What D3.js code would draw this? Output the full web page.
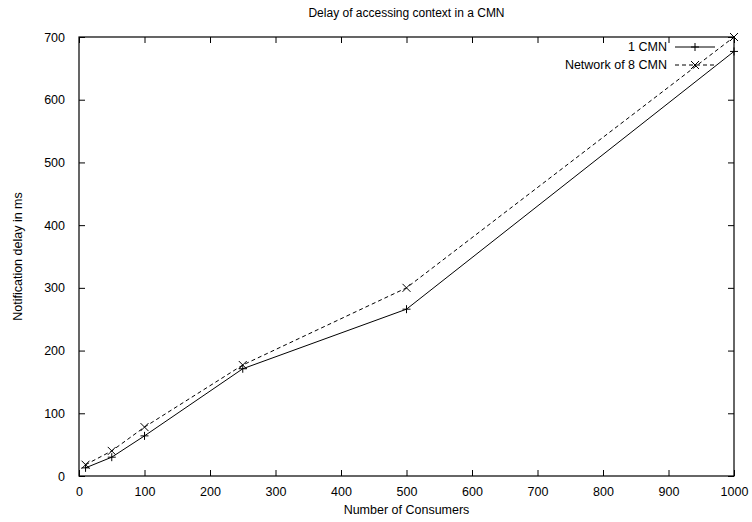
<!DOCTYPE html>
<html>
<head>
<meta charset="utf-8">
<script src="https://cdn.jsdelivr.net/npm/d3@7"></script>
<style>
  body { margin: 0; background: #fff; }
  text { font-family: "Liberation Sans", Arial, sans-serif; fill: #000; }
</style>
</head>
<body>
<div id="chart"></div>
<script>
// values
const consumers = [10, 50, 100, 250, 500, 1000];
const oneCmn = [13, 30, 64, 171, 266, 677];
const network8 = [18, 40, 78, 177, 300, 700];
const xTicks = [0, 100, 200, 300, 400, 500, 600, 700, 800, 900, 1000];
const yTicks = [0, 100, 200, 300, 400, 500, 600, 700];

const series = [
  { name: '1 CMN', values: oneCmn, dash: null, marker: 'plus' },
  { name: 'Network of 8 CMN', values: network8, dash: '4,3', marker: 'cross' }
];

const width = 752, height = 522;
const margin = { top: 37, right: 18, bottom: 46, left: 79 };
const innerW = width - margin.left - margin.right;
const innerH = height - margin.top - margin.bottom;

const svg = d3.select('#chart').append('svg')
  .attr('width', width)
  .attr('height', height);

const g = svg.append('g').attr('transform', `translate(${margin.left},${margin.top})`);

const x = d3.scaleLinear().domain([0, 1000]).range([0, innerW]);
const y = d3.scaleLinear().domain([0, 700]).range([innerH, 0]);

// axes, gnuplot style: inward ticks mirrored on all sides
const tickLen = 6;
g.append('g')
  .attr('transform', `translate(0,${innerH})`)
  .call(d3.axisBottom(x).tickValues(xTicks).tickSize(-tickLen).tickPadding(tickLen + 5).tickFormat(d3.format('d')))
  .call(a => a.select('.domain').remove());
g.append('g')
  .call(d3.axisTop(x).tickValues(xTicks).tickSize(-tickLen).tickFormat(''))
  .call(a => a.select('.domain').remove());
g.append('g')
  .call(d3.axisLeft(y).tickValues(yTicks).tickSize(-tickLen).tickPadding(tickLen + 8).tickFormat(d3.format('d')))
  .call(a => a.select('.domain').remove());
g.append('g')
  .attr('transform', `translate(${innerW},0)`)
  .call(d3.axisRight(y).tickValues(yTicks).tickSize(-tickLen).tickFormat(''))
  .call(a => a.select('.domain').remove());

g.selectAll('.tick text')
  .style('font-size', '12.5px')
  .style('font-family', '"Liberation Sans", Arial, sans-serif');
g.selectAll('.tick line').attr('stroke', '#000');

g.append('rect')
  .attr('width', innerW)
  .attr('height', innerH)
  .attr('fill', 'none')
  .attr('stroke', '#000')
  .attr('stroke-width', 1.2);

// markers
function drawMarker(sel, type, cx, cy, s) {
  if (type === 'plus') {
    sel.append('path')
      .attr('d', `M${cx - s},${cy}H${cx + s}M${cx},${cy - s}V${cy + s}`)
      .attr('stroke', '#000').attr('stroke-width', 1);
  } else {
    sel.append('path')
      .attr('d', `M${cx - s},${cy - s}L${cx + s},${cy + s}M${cx - s},${cy + s}L${cx + s},${cy - s}`)
      .attr('stroke', '#000').attr('stroke-width', 1);
  }
}

const line = d3.line()
  .x((d, i) => x(consumers[i]))
  .y(d => y(d));

series.forEach(s => {
  g.append('path')
    .datum(s.values)
    .attr('d', line)
    .attr('fill', 'none')
    .attr('stroke', '#000')
    .attr('stroke-width', 1)
    .attr('stroke-dasharray', s.dash);
  const mg = g.append('g');
  s.values.forEach((v, i) => drawMarker(mg, s.marker, x(consumers[i]), y(v), 4));
});

// legend
const legend = g.append('g').attr('transform', `translate(${innerW - 59},10)`);
series.forEach((s, i) => {
  const ly = i * 18;
  legend.append('text')
    .attr('x', -8)
    .attr('y', ly)
    .attr('dy', '0.35em')
    .attr('text-anchor', 'end')
    .style('font-size', '12.5px')
    .text(s.name);
  legend.append('line')
    .attr('x1', 0).attr('x2', 40)
    .attr('y1', ly).attr('y2', ly)
    .attr('stroke', '#000')
    .attr('stroke-dasharray', s.dash);
  drawMarker(legend, s.marker, 20, ly, 4);
});

// titles
svg.append('text')
  .attr('x', margin.left + innerW / 2)
  .attr('y', 17)
  .attr('text-anchor', 'middle')
  .style('font-size', '12px')
  .text('Delay of accessing context in a CMN');

svg.append('text')
  .attr('x', margin.left + innerW / 2)
  .attr('y', 514)
  .attr('text-anchor', 'middle')
  .style('font-size', '12.5px')
  .text('Number of Consumers');

svg.append('text')
  .attr('transform', `translate(22,${margin.top + innerH / 2}) rotate(-90)`)
  .attr('text-anchor', 'middle')
  .style('font-size', '12.5px')
  .text('Notification delay in ms');
</script>
</body>
</html>
